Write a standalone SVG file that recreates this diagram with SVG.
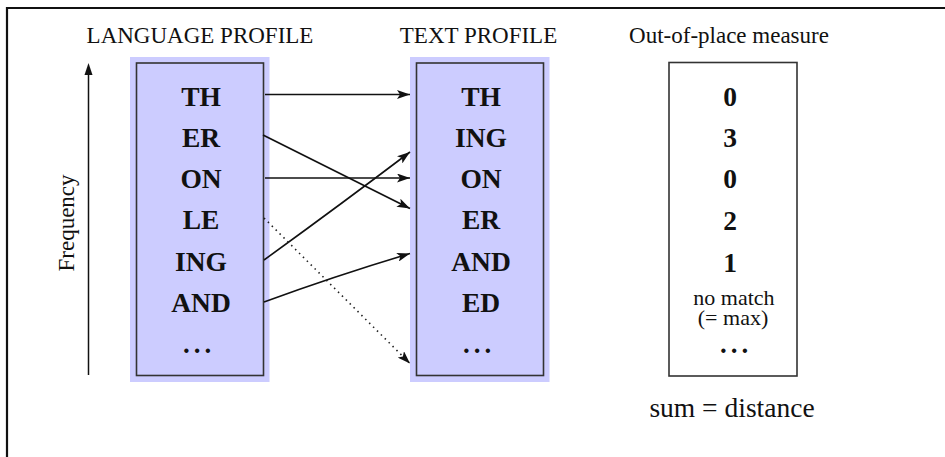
<svg xmlns="http://www.w3.org/2000/svg" width="945" height="457" viewBox="0 0 945 457">
  <style>
    .head { font-family: "Liberation Serif", "Times New Roman", serif; font-size: 23px; fill: #111; text-anchor: middle; }
    .item { font-family: "Liberation Serif", "Times New Roman", serif; font-size: 27.5px; font-weight: bold; fill: #111; text-anchor: middle; }
    .more { font-family: "Liberation Serif", "Times New Roman", serif; font-size: 27px; font-weight: bold; fill: #111; text-anchor: middle; letter-spacing: 4px; }
    .small { font-family: "Liberation Serif", "Times New Roman", serif; font-size: 22px; fill: #111; text-anchor: middle; }
    .sum { font-family: "Liberation Serif", "Times New Roman", serif; font-size: 27.5px; fill: #111; text-anchor: middle; }
    .halo { fill: #ccccff; }
    .box { fill: #ccccff; stroke: #333; stroke-width: 1.6; }
    .plain { fill: #fff; stroke: #333; stroke-width: 1.6; }
    .link { fill: none; stroke: #111; stroke-width: 1.6; }
    .dotted { fill: none; stroke: #222; stroke-width: 1.6; stroke-dasharray: 1.5 4; }
  </style>
  <defs>
    <marker id="head" viewBox="0 0 13 9" refX="13" refY="4.5" markerWidth="13" markerHeight="9" markerUnits="userSpaceOnUse" orient="auto">
      <path d="M0,0 L13,4.5 L0,9 L3,4.5 Z" fill="#111"/>
    </marker>
  </defs>

  <!-- frame -->
  <path d="M7,457 V8 H945" fill="none" stroke="#111" stroke-width="2.2"/>

  <!-- frequency axis -->
  <g id="axis">
    <line x1="88.5" y1="375" x2="88.5" y2="72" stroke="#111" stroke-width="1.5"/>
    <path d="M88.5,63 L92.5,75 L84.5,75 Z" fill="#111"/>
    <text class="head" transform="translate(73.5,223) rotate(-90)">Frequency</text>
  </g>

  <!-- language profile -->
  <g id="language-profile">
    <text class="head" x="200" y="43">LANGUAGE PROFILE</text>
    <rect class="halo" x="130" y="57" width="139.5" height="325"/>
    <rect class="box" x="136.5" y="63" width="127" height="312.5"/>
    <text class="item" x="201" y="106">TH</text>
    <text class="item" x="201" y="147">ER</text>
    <text class="item" x="201" y="188">ON</text>
    <text class="item" x="201" y="229">LE</text>
    <text class="item" x="201" y="271">ING</text>
    <text class="item" x="201" y="312">AND</text>
    <text class="more" x="199" y="353">...</text>
  </g>

  <!-- text profile -->
  <g id="text-profile">
    <text class="head" x="478.5" y="43">TEXT PROFILE</text>
    <rect class="halo" x="410" y="57" width="139.5" height="325"/>
    <rect class="box" x="416.5" y="63" width="127" height="312.5"/>
    <text class="item" x="481" y="106">TH</text>
    <text class="item" x="481" y="147">ING</text>
    <text class="item" x="481" y="188">ON</text>
    <text class="item" x="481" y="229">ER</text>
    <text class="item" x="481" y="271">AND</text>
    <text class="item" x="481" y="312">ED</text>
    <text class="more" x="479" y="353">...</text>
  </g>

  <!-- out-of-place measure -->
  <g id="measure">
    <text class="head" x="729" y="43">Out-of-place measure</text>
    <rect class="plain" x="669" y="62.5" width="128" height="313.5"/>
    <text class="item" x="730" y="106">0</text>
    <text class="item" x="730" y="147">3</text>
    <text class="item" x="730" y="188">0</text>
    <text class="item" x="730" y="230">2</text>
    <text class="item" x="730" y="272">1</text>
    <text class="small" x="734" y="305">no match</text>
    <text class="small" x="733" y="325">(= max)</text>
    <text class="more" x="736" y="353">...</text>
    <text class="sum" x="732" y="417">sum = distance</text>
  </g>

  <!-- connectors -->
  <g id="connectors">
    <line class="link" x1="265" y1="94.5" x2="410" y2="94.5" marker-end="url(#head)"/>
    <line class="link" x1="263" y1="135" x2="410" y2="208.5" marker-end="url(#head)"/>
    <line class="link" x1="265" y1="178" x2="410" y2="178" marker-end="url(#head)"/>
    <path class="link" d="M264,260 Q340,205 410,152" marker-end="url(#head)"/>
    <path class="link" d="M264,302 Q335,276 410,253.5" marker-end="url(#head)"/>
    <line class="dotted" x1="264" y1="218" x2="410" y2="363.5" marker-end="url(#head)"/>
  </g>
</svg>
